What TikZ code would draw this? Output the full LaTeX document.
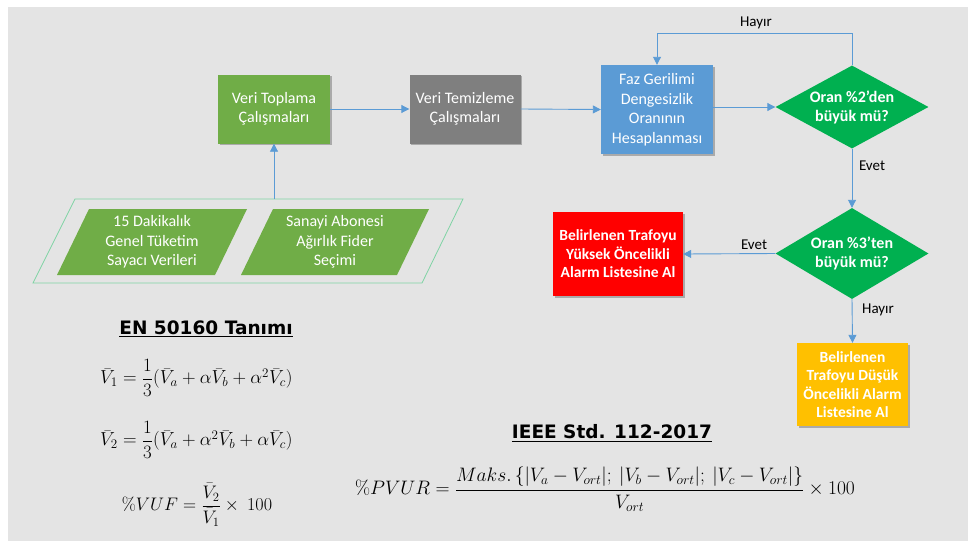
\documentclass[tikz,border=0pt]{standalone}
\usepackage[no-math]{fontspec}
\setmainfont{Carlito}
\newfontfamily\headfont{DejaVu Sans}
\usepackage{amsmath}
\usepackage{graphicx}
\usetikzlibrary{shapes.geometric,arrows.meta,shadows}

\definecolor{bggrey}{HTML}{E4E4E4}
\definecolor{boxgreen}{HTML}{70AD47}
\definecolor{boxgrey}{HTML}{7F7F7F}
\definecolor{boxblue}{HTML}{5B9BD5}
\definecolor{diagreen}{HTML}{00B050}
\definecolor{alarmred}{HTML}{FF0000}
\definecolor{alarmyellow}{HTML}{FFC000}
\definecolor{flowblue}{HTML}{5B9BD5}
\definecolor{frameline}{HTML}{7FD3A4}

\tikzset{
  boxfont/.style={font=\fontsize{16}{19.5}\selectfont},
  procbox/.style={rectangle, draw=none, text=white, align=center, inner sep=2pt,
    boxfont, drop shadow={shadow xshift=1.5pt, shadow yshift=-1.5pt, opacity=.25, fill=black}},
  decision/.style={diamond, aspect=1.8, fill=diagreen, text=white, align=center,
    inner sep=0pt, font=\fontsize{16}{19}\selectfont\bfseries},
  flow/.style={draw=flowblue, line width=0.9pt, -{Triangle[length=8pt,width=8pt]}},
  lbl/.style={font=\fontsize{15}{17}\selectfont, text=black, inner sep=0pt},
  heading/.style={font=\headfont\bfseries\fontsize{18.5}{21}\selectfont, inner sep=0pt},
  paraline/.style={draw=frameline, line width=0.8pt},
  parafill/.style={fill=boxgreen},
  paratext/.style={text=white, align=center, boxfont, inner sep=0pt},
  eqn/.style={font=\fontsize{17.5}{21}\selectfont, inner sep=0pt}
}

\begin{document}
\begin{tikzpicture}[x=1pt,y=-1pt]
\useasboundingbox (0,0) rectangle (968,541);
\fill[bggrey] (8,7) rectangle (968,541);

% main process chain
\node[procbox, fill=boxgreen, minimum width=112pt, minimum height=69pt] (collect) at (274,109)
  {Veri Toplama\\Çalışmaları};
\node[procbox, fill=boxgrey, minimum width=111pt, minimum height=69pt] (clean) at (465,109)
  {Veri Temizleme\\Çalışmaları};
\node[procbox, fill=boxblue, minimum width=112pt, minimum height=89pt] (calc) at (657,109.5)
  {Faz Gerilimi\\Dengesizlik\\Oranının\\Hesaplanması};

% decisions
\node[decision, minimum width=153pt, minimum height=83pt] (q2) at (852,107)
  {Oran \%2'den\\büyük mü?};
\node[decision, minimum width=153pt, minimum height=91pt] (q3) at (852,253.5)
  {Oran \%3'ten\\büyük mü?};

% alarm outputs
\node[procbox, fill=alarmred, font=\fontsize{15.5}{18.5}\selectfont\bfseries,
  minimum width=130pt, minimum height=84pt] (high) at (618,254)
  {Belirlenen Trafoyu\\Yüksek Öncelikli\\Alarm Listesine Al};
\node[procbox, fill=alarmyellow, font=\fontsize{15.5}{18.5}\selectfont\bfseries,
  minimum width=111pt, minimum height=83pt] (low) at (852.5,384.5)
  {Belirlenen\\Trafoyu Düşük\\Öncelikli Alarm\\Listesine Al};

% data sources
\draw[paraline] (75,199) -- (463,199) -- (422,283) -- (33,283) -- cycle;
\fill[parafill] (89,209) -- (247,209) -- (215,275) -- (57,275) -- cycle;
\fill[parafill] (273,209) -- (429,209) -- (397,275) -- (241,275) -- cycle;
\node[paratext] (meter) at (152,242) {15 Dakikalık\\Genel Tüketim\\Sayacı Verileri};
\node[paratext] (feeder) at (335,242) {Sanayi Abonesi\\Ağırlık Fider\\Seçimi};
\coordinate (srctop) at (274,199);

% connectors
\draw[flow] (srctop) -- (collect.south);
\draw[flow] (collect.east) -- (clean.west);
\draw[flow] (clean.east) -- (calc.west);
\draw[flow] (calc.east |- q2.west) -- (q2.west);
\draw[flow] (q2.north) -- ++(0,-32) -| (calc.north);
\draw[flow] (q2.south) -- (q3.north);
\draw[flow] (q3.west) -- (high.east);
\draw[flow] (q3.south) -- (low.north);

% branch labels
\node[lbl] (no1) at (756,23) {Hayır};
\node[lbl] (yes1) at (872,166) {Evet};
\node[lbl] (yes2) at (754,245) {Evet};
\node[lbl] (no2) at (878,310) {Hayır};

% EN 50160 definitions
\node[heading] (enhead) at (206,329) {\underline{EN 50160 Tanımı}};
\node[eqn, anchor=west] (eqone) at (100,378)
  {\scalebox{1.09}{$\bar V_1 = \dfrac{1}{3}(\bar V_a + \alpha\bar V_b + \alpha^2\bar V_c)$}};
\node[eqn, anchor=west] (eqtwo) at (100,440)
  {\scalebox{1.09}{$\bar V_2 = \dfrac{1}{3}(\bar V_a + \alpha^2\bar V_b + \alpha\bar V_c)$}};
\node[eqn] (equf) at (197,505)
  {\scalebox{1.05}{$\%VUF = \dfrac{\bar V_2}{\bar V_1} \times\ 100$}};

% IEEE 112 definition
\node[heading] (ieeehead) at (612,433) {\underline{IEEE Std. 112-2017}};
\node[eqn, font=\fontsize{19.3}{23}\selectfont] (eqpvur) at (605,489)
  {\scalebox{0.94}{$\%PVUR = \dfrac{Maks.\,\{|V_a - V_{ort}|;\ |V_b - V_{ort}|;\ |V_c - V_{ort}|\}}{V_{ort}} \times 100$}};
\end{tikzpicture}
\end{document}
